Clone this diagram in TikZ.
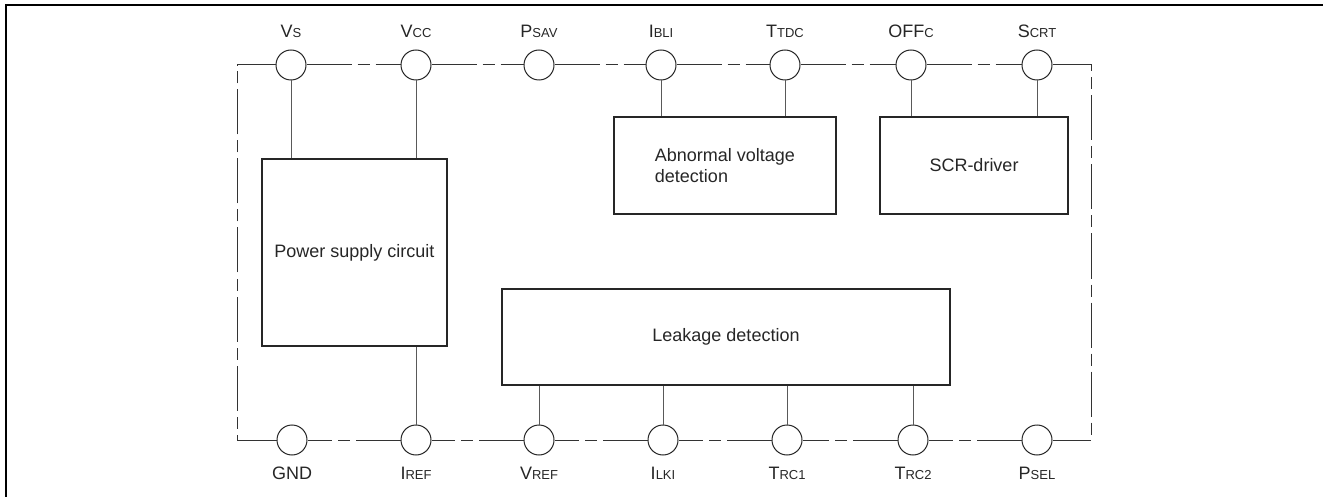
\documentclass[tikz,border=0pt]{standalone}
\usepackage{fontspec}
\setmainfont{Liberation Sans}
\newcommand{\sml}[1]{{\fontsize{13}{15}\selectfont #1}}
\begin{document}
\begin{tikzpicture}[x=1pt,y=-1pt,
  pin/.style={circle,draw=black!85,fill=white,minimum size=30pt,inner sep=0pt,line width=1pt},
  blk/.style={draw=black!85,line width=1.3pt,inner sep=0pt,font=\fontsize{18}{21}\selectfont,text=black!85},
  frame/.style={draw=black!80,line width=1pt,dash pattern=on 45pt off 6pt on 12pt off 6pt},
  wire/.style={draw=black!65,line width=1pt},
  lbl/.style={anchor=base,inner sep=0pt,font=\fontsize{18}{21}\selectfont,text=black!85}]
\useasboundingbox (0,0) rectangle (1323,497);
\draw[line width=2pt] (6,497) -- (6,5) -- (1323,5);

% frame corners
\coordinate (tl) at (237,65);
\coordinate (tr) at (1091,65);
\coordinate (bl) at (237,440);
\coordinate (br) at (1091,440);

% blocks
\node[blk,minimum width=185pt,minimum height=187pt] (psu) at (354.5,252.5) {Power supply circuit};
\node[blk,minimum width=222pt,minimum height=97pt,align=left] (abn) at (725,165.5) {Abnormal voltage\\detection};
\node[blk,minimum width=188pt,minimum height=97pt] (scr) at (974,165.5) {SCR-driver};
\node[blk,minimum width=448pt,minimum height=96pt] (leak) at (726,337) {Leakage detection};

% top pins
\node[pin] (Vs) at (291,65) {};
\node[pin] (Vcc) at (416,65) {};
\node[pin] (Psav) at (539,65) {};
\node[pin] (Ibli) at (661,65) {};
\node[pin] (Ttdc) at (785,65) {};
\node[pin] (OFFc) at (911,65) {};
\node[pin] (Scrt) at (1037,65) {};
% bottom pins
\node[pin] (GND) at (292,440) {};
\node[pin] (Iref) at (416,440) {};
\node[pin] (Vref) at (539,440) {};
\node[pin] (Ilki) at (663,440) {};
\node[pin] (Trc1) at (787,440) {};
\node[pin] (Trc2) at (913,440) {};
\node[pin] (Psel) at (1037,440) {};

% dash-dot frame
\draw[frame] (tl) -- (Vs) -- (Vcc) -- (Psav) -- (Ibli) -- (Ttdc) -- (OFFc) -- (Scrt) -- (tr) -- (br)
  -- (Psel) -- (Trc2) -- (Trc1) -- (Ilki) -- (Vref) -- (Iref) -- (GND) -- (bl) -- (tl);

% wires
\draw[wire] (Vs) -- (Vs |- psu.north);
\draw[wire] (Vcc) -- (Vcc |- psu.north);
\draw[wire] (Iref) -- (Iref |- psu.south);
\draw[wire] (Ibli) -- (Ibli |- abn.north);
\draw[wire] (Ttdc) -- (Ttdc |- abn.north);
\draw[wire] (OFFc) -- (OFFc |- scr.north);
\draw[wire] (Scrt) -- (Scrt |- scr.north);
\draw[wire] (Vref) -- (Vref |- leak.south);
\draw[wire] (Ilki) -- (Ilki |- leak.south);
\draw[wire] (Trc1) -- (Trc1 |- leak.south);
\draw[wire] (Trc2) -- (Trc2 |- leak.south);

% labels
\node[lbl] (lVs) at (291,38) {V\sml{S}};
\node[lbl] (lVcc) at (416,38) {V\sml{CC}};
\node[lbl] (lPsav) at (539,38) {P\sml{SAV}};
\node[lbl] (lIbli) at (661,38) {I\sml{BLI}};
\node[lbl] (lTtdc) at (785,38) {T\sml{TDC}};
\node[lbl] (lOFFc) at (911,38) {OFF\sml{C}};
\node[lbl] (lScrt) at (1037,38) {S\sml{CRT}};
\node[lbl] (lGND) at (292,479) {GND};
\node[lbl] (lIref) at (416,479) {I\sml{REF}};
\node[lbl] (lVref) at (539,479) {V\sml{REF}};
\node[lbl] (lIlki) at (663,479) {I\sml{LKI}};
\node[lbl] (lTrc1) at (787,479) {T\sml{RC1}};
\node[lbl] (lTrc2) at (913,479) {T\sml{RC2}};
\node[lbl] (lPsel) at (1037,479) {P\sml{SEL}};
\end{tikzpicture}
\end{document}
